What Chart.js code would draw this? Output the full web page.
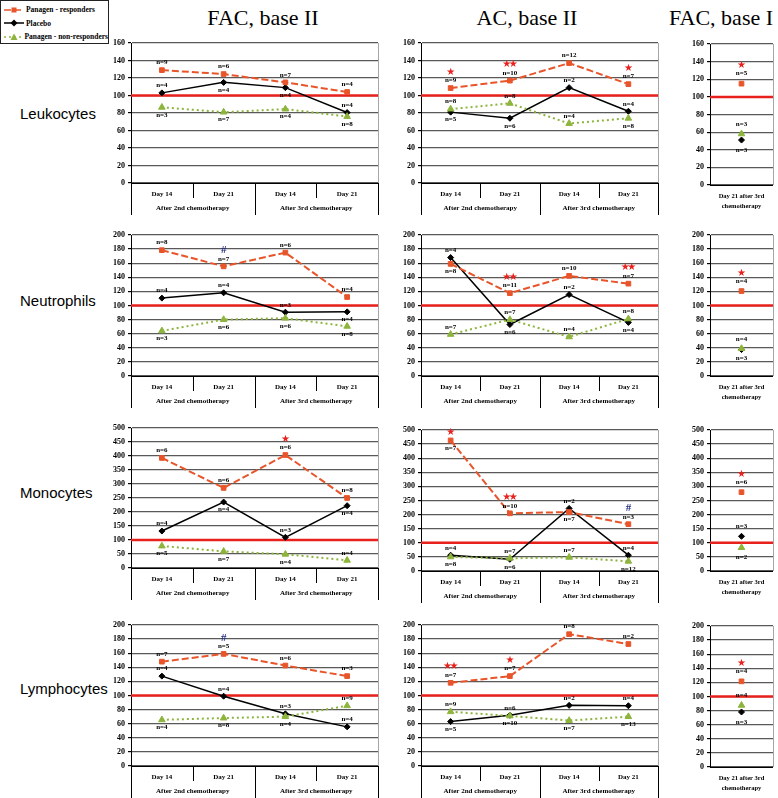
<!DOCTYPE html>
<html lang="en">
<head>
<meta charset="UTF-8">
<title>Panagen - blood counts</title>
<script src="https://cdn.jsdelivr.net/npm/chart.js@4/dist/chart.umd.min.js"></script>
<style>
  body { margin: 0; background: #fff; width: 778px; height: 798px; position: relative; overflow: hidden; }
  canvas { position: absolute; }
  .title { position: absolute; top: 7px; font: 22px/22px 'Liberation Serif', serif; transform: translateX(-50%); white-space: nowrap; }
  .rowname { position: absolute; left: 20px; font: 15px/15px 'Liberation Sans', Arial, sans-serif; white-space: nowrap; }
  #legend { position: absolute; left: 0; top: 0; width: 107px; height: 40px; border: 1px solid #222; padding-top: 2px; }
  #legend .li { height: 13.5px; display: flex; align-items: center; font: bold 7.5px 'Liberation Serif', serif; white-space: nowrap; }
  #legend svg { margin: 0 2px 0 3px; }
</style>
</head>
<body>
<div id="legend"></div>
<script>
// ---- labels ----
const rowNames = ['Leukocytes', 'Neutrophils', 'Monocytes', 'Lymphocytes'];
const columnTitles = ['FAC, base II', 'AC, base II', 'FAC, base I'];
const seriesNames = ['Panagen - responders', 'Placebo', 'Panagen - non-responders'];
const dayLabels = ['Day 14', 'Day 21', 'Day 14', 'Day 21'];
const groupLabels = ['After 2nd chemotherapy', 'After 3rd chemotherapy'];
const singleLabel = [['Day 21 after 3rd', 'chemotherapy']];
const yMax = [160, 200, 500, 200];
const yStep = [20, 20, 50, 20];
const refLevel = 100;

// ---- Leukocytes ----
const leukFac2Resp = [129, 124.5, 115, 104];
const leukFac2Plac = [103, 115, 109, 80.5];
const leukFac2Non = [86.5, 81, 84.5, 76];
const leukFac2RespN = [9, 6, 7, 4];
const leukFac2PlacN = [4, 4, 4, 4];
const leukFac2NonN = [3, 7, 4, 8];
const leukFac2Sig = ['', '', '', ''];

const leukAc2Resp = [108.5, 117, 137, 113];
const leukAc2Plac = [81, 74, 109, 82];
const leukAc2Non = [84.5, 91, 68, 74];
const leukAc2RespN = [9, 10, 12, 7];
const leukAc2PlacN = [5, 6, 2, 4];
const leukAc2NonN = [8, 8, 4, 8];
const leukAc2Sig = ['*', '**', '', '*'];

const leukFac1Resp = [115];
const leukFac1Plac = [51];
const leukFac1Non = [58];
const leukFac1RespN = [5];
const leukFac1PlacN = [3];
const leukFac1NonN = [3];
const leukFac1Sig = ['*'];

// ---- Neutrophils ----
const neutFac2Resp = [178.5, 155.5, 175, 112];
const neutFac2Plac = [110.5, 118, 90.5, 91];
const neutFac2Non = [64, 80, 82, 70.5];
const neutFac2RespN = [8, 7, 6, 4];
const neutFac2PlacN = [4, 4, 3, 4];
const neutFac2NonN = [3, 6, 6, 8];
const neutFac2Sig = ['', '#', '', ''];

const neutAc2Resp = [159, 117.5, 142, 131];
const neutAc2Plac = [168, 73, 115.5, 76];
const neutAc2Non = [59, 80, 55.5, 81];
const neutAc2RespN = [8, 11, 10, 7];
const neutAc2PlacN = [4, 6, 2, 4];
const neutAc2NonN = [7, 7, 4, 8];
const neutAc2Sig = ['', '**', '', '**'];

const neutFac1Resp = [120.5];
const neutFac1Plac = [37.5];
const neutFac1Non = [39];
const neutFac1RespN = [4];
const neutFac1PlacN = [4];
const neutFac1NonN = [3];
const neutFac1Sig = ['*'];

// ---- Monocytes ----
const monoFac2Resp = [393, 286, 403.5, 250];
const monoFac2Plac = [132, 235.5, 109.5, 222.5];
const monoFac2Non = [78.5, 59.5, 49, 27.5];
const monoFac2RespN = [6, 6, 6, 8];
const monoFac2PlacN = [4, 4, 3, 4];
const monoFac2NonN = [5, 7, 4, 4];
const monoFac2Sig = ['', '', '*', ''];

const monoAc2Resp = [463, 204.5, 209, 166];
const monoAc2Plac = [56, 41.5, 222, 56];
const monoAc2Non = [50, 45, 48.5, 34.5];
const monoAc2RespN = [7, 10, 7, 3];
const monoAc2PlacN = [4, 6, 2, 4];
const monoAc2NonN = [8, 7, 7, 12];
const monoAc2Sig = ['*', '**', '', '#'];

const monoFac1Resp = [279.5];
const monoFac1Plac = [123];
const monoFac1Non = [83];
const monoFac1RespN = [6];
const monoFac1PlacN = [3];
const monoFac1NonN = [2];
const monoFac1Sig = ['*'];

// ---- Lymphocytes ----
const lymFac2Resp = [148, 159, 142.5, 127.5];
const lymFac2Plac = [127.5, 99, 74, 55.5];
const lymFac2Non = [65.5, 68, 70, 85.5];
const lymFac2RespN = [7, 5, 6, 3];
const lymFac2PlacN = [4, 4, 3, 4];
const lymFac2NonN = [4, 8, 4, 9];
const lymFac2Sig = ['', '#', '', ''];

const lymAc2Resp = [118, 127.5, 187, 173];
const lymAc2Plac = [63, 72, 86, 85.5];
const lymAc2Non = [77, 71, 64.5, 70];
const lymAc2RespN = [7, 7, 8, 2];
const lymAc2PlacN = [5, 10, 2, 4];
const lymAc2NonN = [9, 6, 7, 13];
const lymAc2Sig = ['**', '*', '', ''];

const lymFac1Resp = [121.5];
const lymFac1Plac = [78];
const lymFac1Non = [87.5];
const lymFac1RespN = [4];
const lymFac1PlacN = [3];
const lymFac1NonN = [4];
const lymFac1Sig = ['*'];

// ---- panels (at: where the n= label goes, u = above, d = below) ----
const panels = [
  { row: 0, col: 0, v: [leukFac2Resp, leukFac2Plac, leukFac2Non], n: [leukFac2RespN, leukFac2PlacN, leukFac2NonN], sig: leukFac2Sig, at: ['uuuu', 'uddu', 'dddd'] },
  { row: 0, col: 1, v: [leukAc2Resp, leukAc2Plac, leukAc2Non], n: [leukAc2RespN, leukAc2PlacN, leukAc2NonN], sig: leukAc2Sig, at: ['uuuu', 'dduu', 'uuud'] },
  { row: 0, col: 2, v: [leukFac1Resp, leukFac1Plac, leukFac1Non], n: [leukFac1RespN, leukFac1PlacN, leukFac1NonN], sig: leukFac1Sig, at: ['u', 'd', 'u'] },
  { row: 1, col: 0, v: [neutFac2Resp, neutFac2Plac, neutFac2Non], n: [neutFac2RespN, neutFac2PlacN, neutFac2NonN], sig: neutFac2Sig, at: ['uuuu', 'uuud', 'dddd'] },
  { row: 1, col: 1, v: [neutAc2Resp, neutAc2Plac, neutAc2Non], n: [neutAc2RespN, neutAc2PlacN, neutAc2NonN], sig: neutAc2Sig, at: ['duuu', 'udud', 'uuuu'] },
  { row: 1, col: 2, v: [neutFac1Resp, neutFac1Plac, neutFac1Non], n: [neutFac1RespN, neutFac1PlacN, neutFac1NonN], sig: neutFac1Sig, at: ['u', 'u', 'd'] },
  { row: 2, col: 0, v: [monoFac2Resp, monoFac2Plac, monoFac2Non], n: [monoFac2RespN, monoFac2PlacN, monoFac2NonN], sig: monoFac2Sig, at: ['uuuu', 'udud', 'dddu'] },
  { row: 2, col: 1, v: [monoAc2Resp, monoAc2Plac, monoAc2Non], n: [monoAc2RespN, monoAc2PlacN, monoAc2NonN], sig: monoAc2Sig, at: ['dudu', 'uduu', 'duud'] },
  { row: 2, col: 2, v: [monoFac1Resp, monoFac1Plac, monoFac1Non], n: [monoFac1RespN, monoFac1PlacN, monoFac1NonN], sig: monoFac1Sig, at: ['u', 'u', 'd'] },
  { row: 3, col: 0, v: [lymFac2Resp, lymFac2Plac, lymFac2Non], n: [lymFac2RespN, lymFac2PlacN, lymFac2NonN], sig: lymFac2Sig, at: ['uuuu', 'uuuu', 'dddu'] },
  { row: 3, col: 1, v: [lymAc2Resp, lymAc2Plac, lymAc2Non], n: [lymAc2RespN, lymAc2PlacN, lymAc2NonN], sig: lymAc2Sig, at: ['uuuu', 'dduu', 'uudd'] },
  { row: 3, col: 2, v: [lymFac1Resp, lymFac1Plac, lymFac1Non], n: [lymFac1RespN, lymFac1PlacN, lymFac1NonN], sig: lymFac1Sig, at: ['u', 'd', 'u'] }
];

// ---- layout ----
const SERIF = "'Liberation Serif', 'Times New Roman', serif";
const colBox = [{ l: 131, r: 378, x: 263 }, { l: 421, r: 658, x: 527 }, { l: 710, r: 773, x: 721 }];
const rowBox = [
  [{ t: 43, b: 183 }, { t: 43, b: 183 }, { t: 44, b: 185 }],
  [{ t: 235, b: 376 }, { t: 235, b: 376 }, { t: 235, b: 376 }],
  [{ t: 428, b: 568 }, { t: 430, b: 571 }, { t: 430, b: 571 }],
  [{ t: 625, b: 766 }, { t: 625, b: 766 }, { t: 626, b: 767 }]
];
const rowLabelY = [113, 300, 492, 688];
const yAxisW = 30, padT = 10, padB = 36;

const seriesStyle = [
  { color: '#E8552A', dash: [7, 3], width: 2, point: 'rect', radius: 3.3, order: 0 },
  { color: '#000000', dash: [], width: 1.5, point: 'rectRot', radius: 3, order: 2 },
  { color: '#8DB43C', dash: [2, 3], width: 2, point: 'triangle', radius: 3.8, order: 1 }
];

// red reference line, right border, labels and the category boxes
const panelDeco = {
  id: 'panelDeco',
  beforeDatasetsDraw(chart) {
    const { ctx, chartArea: a, scales: { y } } = chart;
    ctx.save();
    ctx.strokeStyle = '#a6a6a6';
    ctx.lineWidth = 1;
    ctx.beginPath();
    ctx.moveTo(a.right + 0.5, a.top);
    ctx.lineTo(a.right + 0.5, a.bottom);
    ctx.stroke();
    const ry = y.getPixelForValue(refLevel);
    ctx.strokeStyle = '#E8211C';
    ctx.lineWidth = 2.5;
    ctx.beginPath();
    ctx.moveTo(a.left, ry);
    ctx.lineTo(a.right, ry);
    ctx.stroke();
    ctx.restore();
  },
  afterDatasetsDraw(chart, args, opts) {
    const { ctx } = chart;
    ctx.save();
    ctx.textAlign = 'center';
    ctx.textBaseline = 'middle';
    chart.data.datasets.forEach((ds, di) => {
      chart.getDatasetMeta(di).data.forEach((pt, i) => {
        const up = ds.at[i] === 'u';
        ctx.font = 'bold 7px ' + SERIF;
        ctx.fillStyle = '#000';
        ctx.fillText('n=' + ds.counts[i], pt.x, up ? pt.y - opts.gapN : pt.y + opts.gapN);
        const s = ds.sig ? ds.sig[i] : '';
        if (!s) return;
        const sy = up ? pt.y - opts.gapS : pt.y - 8;
        if (s === '#') {
          ctx.font = 'bold 11px ' + SERIF;
          ctx.fillStyle = '#26307F';
          ctx.fillText('#', pt.x, sy);
        } else {
          // stars drawn one by one, tight together
          ctx.font = "10px 'DejaVu Sans'";
          ctx.fillStyle = '#E8211C';
          const step = 6.5;
          for (let k = 0; k < s.length; k++) {
            ctx.fillText('\u2605', pt.x + (k - (s.length - 1) / 2) * step, sy);
          }
        }
      });
    });
    ctx.restore();
  },
  afterDraw(chart) {
    const { ctx, chartArea: a, scales: { x } } = chart;
    const labels = chart.data.labels;
    ctx.save();
    ctx.fillStyle = '#000';
    ctx.strokeStyle = '#000';
    ctx.lineWidth = 1;
    ctx.beginPath();
    ctx.moveTo(a.left, a.bottom + 0.5);
    ctx.lineTo(a.right, a.bottom + 0.5);
    ctx.stroke();
    ctx.textAlign = 'center';
    ctx.textBaseline = 'middle';
    if (labels.length === 1) {
      ctx.font = 'bold 6.5px ' + SERIF;
      labels[0].forEach((line, i) => ctx.fillText(line, x.getPixelForValue(0), a.bottom + 11 + i * 10));
    } else {
      const n = labels.length;
      const half = (x.getPixelForValue(1) - x.getPixelForValue(0)) / 2;
      const edge = i => i === 0 ? a.left : i === n ? a.right : x.getPixelForValue(i) - half;
      for (let i = 0; i <= n; i++) {
        const bx = Math.round(edge(i)) + 0.5;
        ctx.beginPath();
        ctx.moveTo(bx, a.bottom);
        ctx.lineTo(bx, a.bottom + (i % 2 === 0 ? 32 : 15));
        ctx.stroke();
      }
      ctx.font = 'bold 7px ' + SERIF;
      labels.forEach((lab, i) => ctx.fillText(lab, x.getPixelForValue(i), a.bottom + 11));
      groupLabels.forEach((g, k) => ctx.fillText(g, (edge(2 * k) + edge(2 * k + 2)) / 2, a.bottom + 25));
    }
    ctx.restore();
  }
};

function buildPanel(p) {
  const col = colBox[p.col], rb = rowBox[p.row][p.col];
  const padR = Math.min(6, 778 - col.r);
  const w = col.r - col.l + yAxisW + padR;
  const h = rb.b - rb.t + padT + padB;
  const cv = document.createElement('canvas');
  cv.width = w;
  cv.height = h;
  Object.assign(cv.style, { left: (col.l - yAxisW) + 'px', top: (rb.t - padT) + 'px', width: w + 'px', height: h + 'px' });
  document.body.appendChild(cv);

  new Chart(cv, {
    type: 'line',
    data: {
      labels: p.col === 2 ? singleLabel : dayLabels,
      datasets: p.v.map((vals, k) => ({
        label: seriesNames[k],
        data: vals,
        counts: p.n[k],
        at: p.at[k],
        sig: k === 0 ? p.sig : null,
        order: seriesStyle[k].order,
        borderColor: seriesStyle[k].color,
        backgroundColor: seriesStyle[k].color,
        borderWidth: seriesStyle[k].width,
        borderDash: seriesStyle[k].dash,
        pointStyle: seriesStyle[k].point,
        pointRadius: seriesStyle[k].radius,
        pointBorderWidth: 1,
        pointBorderColor: seriesStyle[k].color,
        pointBackgroundColor: seriesStyle[k].color,
        tension: 0,
        fill: false
      }))
    },
    options: {
      responsive: false,
      animation: false,
      devicePixelRatio: 1,
      layout: { padding: { top: padT, right: padR, bottom: padB, left: 0 } },
      plugins: {
        legend: { display: false },
        tooltip: { enabled: false },
        panelDeco: p.col === 2 ? { gapN: 10, gapS: 18 } : { gapN: 7.5, gapS: 16 }
      },
      scales: {
        x: { display: false, offset: true },
        y: {
          min: 0,
          max: yMax[p.row],
          afterFit: s => { s.width = yAxisW; },
          ticks: { stepSize: yStep[p.row], color: '#000', padding: 3, font: { family: SERIF, size: 8, weight: 'bold' } },
          grid: { color: '#595959', lineWidth: 1.2, tickLength: 3, tickColor: '#000', drawTicks: true },
          border: { color: '#000', width: 1 }
        }
      }
    },
    plugins: [panelDeco]
  });
}

// titles, row names, legend
columnTitles.forEach((t, c) => {
  const d = document.createElement('div');
  d.className = 'title';
  d.style.left = colBox[c].x + 'px';
  d.textContent = t;
  document.body.appendChild(d);
});
rowNames.forEach((t, r) => {
  const d = document.createElement('div');
  d.className = 'rowname';
  d.style.top = (rowLabelY[r] - 7.5) + 'px';
  d.textContent = t;
  document.body.appendChild(d);
});
const markerSvg = [
  '<rect x="7.5" y="1.5" width="5" height="5"/>',
  '<polygon points="10,0.5 13.5,4 10,7.5 6.5,4"/>',
  '<polygon points="10,0.5 13.5,7 6.5,7"/>'
];
const legendEl = document.getElementById('legend');
seriesNames.forEach((name, k) => {
  const s = seriesStyle[k];
  const row = document.createElement('div');
  row.className = 'li';
  row.innerHTML = '<svg width="20" height="8"><line x1="0" y1="4" x2="20" y2="4" stroke="' + s.color +
    '" stroke-width="1.5" stroke-dasharray="' + (s.dash.length ? s.dash.join(',') : 'none') + '"/>' +
    '<g fill="' + s.color + '">' + markerSvg[k] + '</g></svg><span>' + name + '</span>';
  legendEl.appendChild(row);
});

panels.forEach(buildPanel);
</script>
</body>
</html>
